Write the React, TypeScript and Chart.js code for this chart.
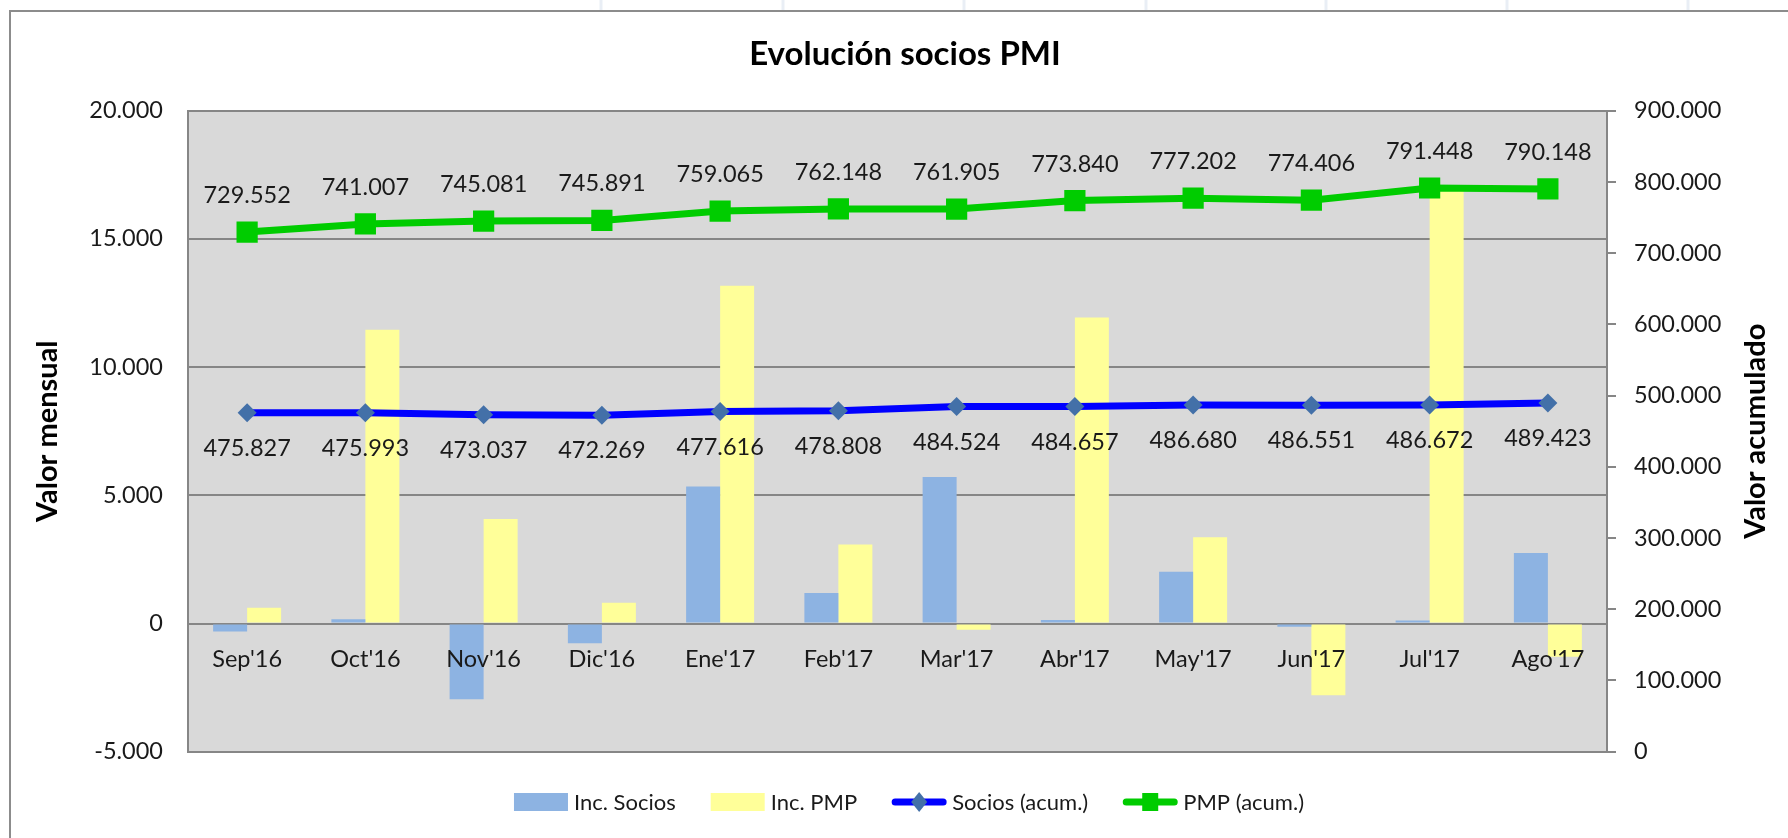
import React, { useEffect, useRef } from 'react';
import { Chart, registerables } from 'chart.js';

Chart.register(...registerables);

// ---------- data ----------
const categories = ["Sep'16", "Oct'16", "Nov'16", "Dic'16", "Ene'17", "Feb'17", "Mar'17", "Abr'17", "May'17", "Jun'17", "Jul'17", "Ago'17"];
const incSocios = [-310, 166, -2956, -768, 5347, 1192, 5716, 133, 2023, -129, 121, 2751];
const incPMP = [610, 11455, 4074, 810, 13174, 3083, -243, 11935, 3362, -2796, 17042, -1300];
const sociosAcum = [475827, 475993, 473037, 472269, 477616, 478808, 484524, 484657, 486680, 486551, 486672, 489423];
const pmpAcum = [729552, 741007, 745081, 745891, 759065, 762148, 761905, 773840, 777202, 774406, 791448, 790148];
const leftMin = -5000;
const leftMax = 20000;
const leftStep = 5000;
const rightMin = 0;
const rightMax = 900000;
const rightStep = 100000;
const seriesNames = ['Inc. Socios', 'Inc. PMP', 'Socios (acum.)', 'PMP (acum.)'];
const titleText = 'Evolución socios PMI';
const leftTitle = 'Valor mensual';
const rightTitle = 'Valor acumulado';

// ---------- styles ----------
const FONT = "Lato, 'Open Sans', sans-serif";
const C_BLUE_BAR = '#8DB3E2';
const C_YELLOW_BAR = '#FFFF99';
const C_SOCIOS_LINE = '#0000FF';
const C_SOCIOS_MARK = '#4370A8';
const C_PMP = '#00CC00';
const C_GRID = '#868686';
const C_TEXT = '#1a1a1a';

const fmt = (v: number) =>
  (v < 0 ? '-' : '') + String(Math.abs(Math.round(v))).replace(/\B(?=(\d{3})+(?!\d))/g, '.');

const decorPlugin = {
  id: 'decor',
  beforeDraw(chart: any) {
    const { ctx, chartArea: a, width, height } = chart;
    ctx.save();
    ctx.fillStyle = '#ffffff';
    ctx.fillRect(0, 0, width, height);
    // faint spreadsheet cell lines above the chart frame
    ctx.strokeStyle = '#E9EEF5';
    ctx.lineWidth = 3;
    [601, 783, 964, 1146, 1326, 1507, 1688].forEach((x) => {
      ctx.beginPath();
      ctx.moveTo(x, 0);
      ctx.lineTo(x, 10);
      ctx.stroke();
    });
    // plot background
    ctx.fillStyle = '#D9D9D9';
    ctx.fillRect(a.left, a.top, a.right - a.left, a.bottom - a.top);
    ctx.restore();
  },
  afterDraw(chart: any) {
    const { ctx, chartArea: a } = chart;
    const xs = chart.scales.x;
    const ys = chart.scales.y;
    ctx.save();

    // outer frame
    ctx.strokeStyle = '#8C8C8C';
    ctx.lineWidth = 2;
    ctx.beginPath();
    ctx.moveTo(10, 838);
    ctx.lineTo(10, 11);
    ctx.lineTo(1788, 11);
    ctx.stroke();

    // title
    ctx.fillStyle = '#000';
    ctx.font = `bold 33px ${FONT}`;
    ctx.textAlign = 'center';
    ctx.textBaseline = 'middle';
    ctx.fillText(titleText, 905, 54);

    // axis titles
    const cy = (a.top + a.bottom) / 2;
    ctx.font = `bold 29px ${FONT}`;
    ctx.save();
    ctx.translate(48, cy);
    ctx.rotate(-Math.PI / 2);
    ctx.fillText(leftTitle, 0, 0);
    ctx.restore();
    ctx.save();
    ctx.translate(1756, cy);
    ctx.rotate(-Math.PI / 2);
    ctx.fillText(rightTitle, 0, 0);
    ctx.restore();

    // category labels next to the zero line
    const y0 = ys.getPixelForValue(0);
    ctx.fillStyle = C_TEXT;
    ctx.font = `23.5px ${FONT}`;
    ctx.textAlign = 'center';
    ctx.textBaseline = 'alphabetic';
    categories.forEach((c, i) => {
      ctx.fillText(c, xs.getPixelForValue(i), y0 + 43);
    });

    // data labels
    const mS = chart.getDatasetMeta(2);
    const mP = chart.getDatasetMeta(3);
    mS.data.forEach((p: any, i: number) => {
      ctx.fillText(fmt(sociosAcum[i]), p.x, p.y + 43);
    });
    mP.data.forEach((p: any, i: number) => {
      ctx.fillText(fmt(pmpAcum[i]), p.x, p.y - 29);
    });

    // legend
    ctx.font = `22px ${FONT}`;
    ctx.textAlign = 'left';
    ctx.textBaseline = 'middle';
    const ly = 802;
    const sw = 54;
    const gapT = 6;
    const gapI = 35;
    const widths = seriesNames.map((n) => sw + gapT + ctx.measureText(n).width);
    const total = widths.reduce((s, w) => s + w, 0) + gapI * (seriesNames.length - 1);
    let x = 909 - total / 2;
    seriesNames.forEach((n, i) => {
      if (i === 0 || i === 1) {
        ctx.fillStyle = i === 0 ? C_BLUE_BAR : C_YELLOW_BAR;
        ctx.fillRect(x, ly - 9, sw, 18);
      } else {
        const col = i === 2 ? C_SOCIOS_LINE : C_PMP;
        ctx.strokeStyle = col;
        ctx.lineWidth = 7;
        ctx.lineCap = 'round';
        ctx.beginPath();
        ctx.moveTo(x + 3, ly);
        ctx.lineTo(x + sw - 3, ly);
        ctx.stroke();
        const cx = x + sw / 2;
        if (i === 2) {
          ctx.fillStyle = C_SOCIOS_MARK;
          ctx.beginPath();
          ctx.moveTo(cx - 8, ly);
          ctx.lineTo(cx, ly - 10);
          ctx.lineTo(cx + 8, ly);
          ctx.lineTo(cx, ly + 10);
          ctx.closePath();
          ctx.fill();
        } else {
          ctx.fillStyle = C_PMP;
          ctx.fillRect(cx - 8, ly - 9, 16, 18);
        }
      }
      ctx.fillStyle = C_TEXT;
      ctx.fillText(n, x + sw + gapT, ly + 1);
      x += widths[i] + gapI;
    });

    ctx.restore();
  },
};

export default function App() {
  const ref = useRef<HTMLCanvasElement | null>(null);

  useEffect(() => {
    if (!ref.current) return;
    const chart = new Chart(ref.current, {
      type: 'bar',
      data: {
        labels: categories,
        datasets: [
          {
            type: 'bar',
            label: seriesNames[0],
            data: incSocios,
            backgroundColor: C_BLUE_BAR,
            borderWidth: 0,
            yAxisID: 'y',
            order: 2,
            categoryPercentage: 0.575,
            barPercentage: 1,
          },
          {
            type: 'bar',
            label: seriesNames[1],
            data: incPMP,
            backgroundColor: C_YELLOW_BAR,
            borderWidth: 0,
            yAxisID: 'y',
            order: 2,
            categoryPercentage: 0.575,
            barPercentage: 1,
          },
          {
            type: 'line',
            label: seriesNames[2],
            data: sociosAcum,
            borderColor: C_SOCIOS_LINE,
            borderWidth: 7,
            tension: 0,
            pointStyle: 'rectRot',
            pointRadius: 9.5,
            pointBackgroundColor: C_SOCIOS_MARK,
            pointBorderColor: C_SOCIOS_MARK,
            pointBorderWidth: 0,
            yAxisID: 'y1',
            order: 1,
          },
          {
            type: 'line',
            label: seriesNames[3],
            data: pmpAcum,
            borderColor: C_PMP,
            borderWidth: 7,
            tension: 0,
            pointStyle: 'rect',
            pointRadius: 15,
            pointBackgroundColor: C_PMP,
            pointBorderColor: C_PMP,
            pointBorderWidth: 0,
            yAxisID: 'y1',
            order: 0,
          },
        ],
      } as any,
      options: {
        responsive: false,
        animation: false,
        devicePixelRatio: 1,
        layout: { padding: { left: 0, right: 0, top: 110.7, bottom: 86.3 } },
        plugins: {
          legend: { display: false },
          title: { display: false },
          tooltip: { enabled: false },
        },
        scales: {
          x: {
            display: false,
          },
          y: {
            position: 'left',
            min: leftMin,
            max: leftMax,
            afterFit: (s: any) => {
              s.width = 188;
            },
            ticks: {
              stepSize: leftStep,
              padding: 25,
              color: C_TEXT,
              font: { family: FONT, size: 23.5 },
              callback: (v: any) => fmt(Number(v)),
            },
            grid: {
              color: C_GRID,
              lineWidth: 2,
              drawTicks: false,
            },
            border: { display: true, color: C_GRID, width: 2 },
          },
          y1: {
            position: 'right',
            min: rightMin,
            max: rightMax,
            afterFit: (s: any) => {
              s.width = 181;
            },
            ticks: {
              stepSize: rightStep,
              padding: 18,
              color: C_TEXT,
              font: { family: FONT, size: 23.5 },
              callback: (v: any) => fmt(Number(v)),
            },
            grid: {
              drawOnChartArea: false,
              drawTicks: true,
              tickLength: 9,
              color: C_GRID,
              lineWidth: 2,
            },
            border: { display: true, color: C_GRID, width: 2 },
          },
        },
      } as any,
      plugins: [decorPlugin],
    });
    return () => chart.destroy();
  }, []);

  return (
    <div style={{ position: 'absolute', left: 0, top: 0, width: 1788, height: 838 }}>
      <canvas ref={ref} width={1788} height={838} style={{ width: 1788, height: 838, display: 'block' }} />
    </div>
  );
}
